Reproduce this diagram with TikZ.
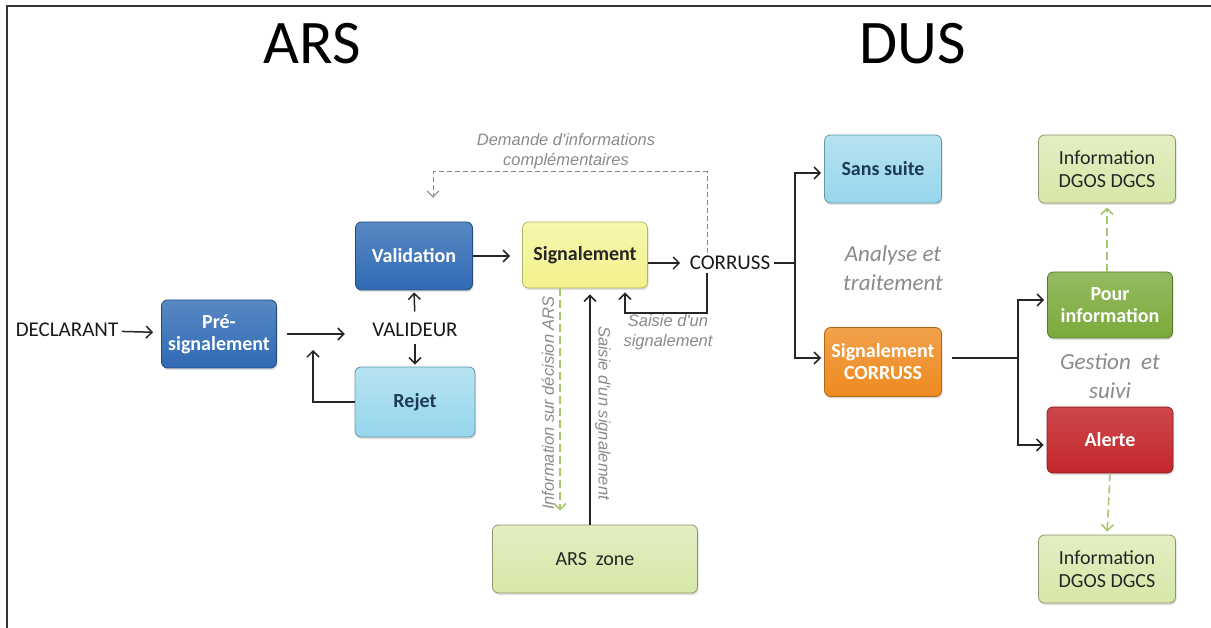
\documentclass[tikz,border=0pt]{standalone}
\usepackage{fontspec}
\setmainfont{Carlito}
\newfontfamily\lblfont{Liberation Sans}
\definecolor{bleufonce}{HTML}{2F6AB4}
\definecolor{bleuclair}{HTML}{96D6EC}
\definecolor{jaune}{HTML}{F2F28C}
\definecolor{vertclair}{HTML}{D7E7A8}
\definecolor{vert}{HTML}{7AAA3A}
\definecolor{orange}{HTML}{EE8A1E}
\definecolor{rouge}{HTML}{C4272B}
\definecolor{gris}{HTML}{8A8A8A}
\definecolor{vertpointille}{HTML}{A8C86C}
\definecolor{texteclair}{HTML}{1E3A55}
\usetikzlibrary{arrows.meta,positioning,shadows}

\begin{document}
\begin{tikzpicture}[x=1pt,y=-1pt,
    box/.style={draw,rounded corners=6pt,minimum height=68pt,minimum width=117pt,
                font=\fontsize{20}{22}\selectfont\bfseries,align=center,line width=0.8pt,
                drop shadow={shadow xshift=1pt,shadow yshift=-2pt,opacity=0.25}},
    bleubox/.style={box,draw=bleufonce!70!black,top color=bleufonce!80!white,bottom color=bleufonce,text=white},
    ciel/.style={box,draw=bleuclair!70!black,top color=bleuclair!70!white,bottom color=bleuclair,text=texteclair},
    jaunebox/.style={box,draw=jaune!75!black,top color=jaune!70!white,bottom color=jaune,text=black!85},
    infobox/.style={box,draw=vertclair!65!black,top color=vertclair!70!white,bottom color=vertclair,
                    text=black!85,font=\fontsize{20}{23}\selectfont},
    vertbox/.style={box,draw=vert!70!black,top color=vert!80!white,bottom color=vert,text=white},
    orangebox/.style={box,draw=orange!75!black,top color=orange!80!white,bottom color=orange,text=white},
    rougebox/.style={box,draw=rouge!70!black,top color=rouge!85!white,bottom color=rouge,text=white},
    etiq/.style={font=\fontsize{21}{23}\selectfont,text=black!90},
    note/.style={font=\lblfont\itshape\fontsize{16.5}{20}\selectfont,text=gris,align=center},
    phase/.style={font=\itshape\fontsize{23}{29}\selectfont,text=gris,align=center},
    titre/.style={font=\fontsize{62}{62}\selectfont,text=black},
    arr/.style={-{Straight Barb[length=6pt,width=12pt]},line width=1.5pt,black!85},
    tiret/.style={-{Straight Barb[length=6pt,width=12pt]},line width=1pt,gris,dash pattern=on 5pt off 3pt},
    vertarr/.style={-{Straight Barb[length=6pt,width=12pt]},line width=1.6pt,vertpointille,
                    dash pattern=on 8pt off 4pt}
  ]
    \useasboundingbox (0,0) rectangle (1211,628);
    % cadre
    \draw[line width=2pt,black!80] (7,628) -- (7,6) -- (1211,6);

    \node[titre] (ars) at (312,44) {ARS};
    \node[titre] (dus) at (913,44) {DUS};

    % partie ARS
    \node[etiq] (declarant) at (67,330) {DECLARANT};
    \node[bleubox,minimum width=115pt] (presig) at (219,334) {Pré-\\signalement};
    \node[etiq] (valideur) at (415,330) {VALIDEUR};
    \node[bleubox] (validation) at (414,256) {Validation};
    \node[ciel,minimum width=120pt,minimum height=70pt] (rejet) at (415,402) {Rejet};
    \node[jaunebox,minimum width=125pt,minimum height=66pt] (signalement) at (585,255) {Signalement};
    \node[etiq] (corruss) at (730,263) {CORRUSS};
    \node[infobox,minimum width=205pt] (arszone) at (595,559) {ARS\ \ zone};

    \node[note] (demande) at (566,151) {Demande d'informations\\complémentaires};
    \node[note] (saisie) at (668,332) {Saisie d'un\\signalement};
    \node[note,rotate=90] (decision) at (548,403) {Information sur décision ARS};
    \node[note,rotate=-90] (saisiezone) at (603,413) {Saisie d'un signalement};

    % partie DUS
    \node[ciel] (sanssuite) at (883,169) {Sans suite};
    \node[orangebox,minimum height=69pt] (sigcorruss) at (883,362) {Signalement\\CORRUSS};
    \node[phase] (analyse) at (893,268) {Analyse et\\traitement};
    \node[vertbox,minimum width=125pt,minimum height=66pt] (pourinfo) at (1110,305) {Pour\\information};
    \node[rougebox,minimum width=126pt,minimum height=66pt] (alerte) at (1110,440) {Alerte};
    \node[infobox,minimum width=137pt] (infohaut) at (1107,169) {Information\\DGOS DGCS};
    \node[infobox,minimum width=137pt] (infobas) at (1107,569) {Information\\DGOS DGCS};
    \node[phase] (gestion) at (1110,376) {Gestion\ \ et\\suivi};

    \coordinate (retour) at (313,350);
    \coordinate (haut) at (707,172);
    \coordinate (bas) at (625,313);
    \coordinate (fourche) at (795,263);
    \coordinate (fourche2) at (1018,358);

    \draw[arr,shorten <=0pt,shorten >=8pt] (declarant) -- (presig);
    \draw[arr,shorten <=10pt,shorten >=24pt] (presig) -- (presig -| valideur.west);
    \draw[arr] (rejet.west) -| (retour);
    \draw[arr,shorten <=8pt,shorten >=2pt] (valideur.north) -- (validation.south);
    \draw[arr,shorten <=4pt,shorten >=2pt] (valideur.south) -- (rejet.north);
    \draw[arr,shorten >=12pt] (validation.east) -- (validation.east -| signalement.west);
    \draw[arr,shorten >=6pt] (signalement.east |- corruss) -- (corruss.west);
    \draw[tiret] ([xshift=-23pt]corruss.north) -- (haut) -| ([xshift=19pt,yshift=24pt]validation.north);
    \draw[arr] ([xshift=-23pt]corruss.south) |- (bas) -- ([yshift=-4pt]bas |- signalement.south);
    \draw[vertarr,shorten >=14pt] ([xshift=-25pt]signalement.south) -- ([xshift=-35pt]arszone.north);
    \draw[arr,shorten >=6pt] ([xshift=-5pt]arszone.north) -- ([xshift=5pt]signalement.south);

    \draw[line width=1.5pt,black!85] (corruss) -- (fourche);
    \draw[arr,shorten >=3pt] (fourche) |- ([yshift=-4pt]sanssuite.west);
    \draw[arr,shorten >=3pt] (fourche) |- ([yshift=4pt]sigcorruss.west);
    \draw[line width=1.5pt,black!85,shorten <=10pt] (sigcorruss.east |- fourche2) -- (fourche2);
    \draw[arr,shorten >=3pt] (fourche2) |- ([yshift=5pt]pourinfo.west);
    \draw[arr,shorten >=3pt] (fourche2) |- ([yshift=-5pt]alerte.west);
    \draw[vertarr,shorten >=4pt] ([xshift=-3pt]pourinfo.north) -- (infohaut.south);
    \draw[vertarr,shorten >=3pt] (alerte.south) -- (infobas.north);
  \end{tikzpicture}
\end{document}
